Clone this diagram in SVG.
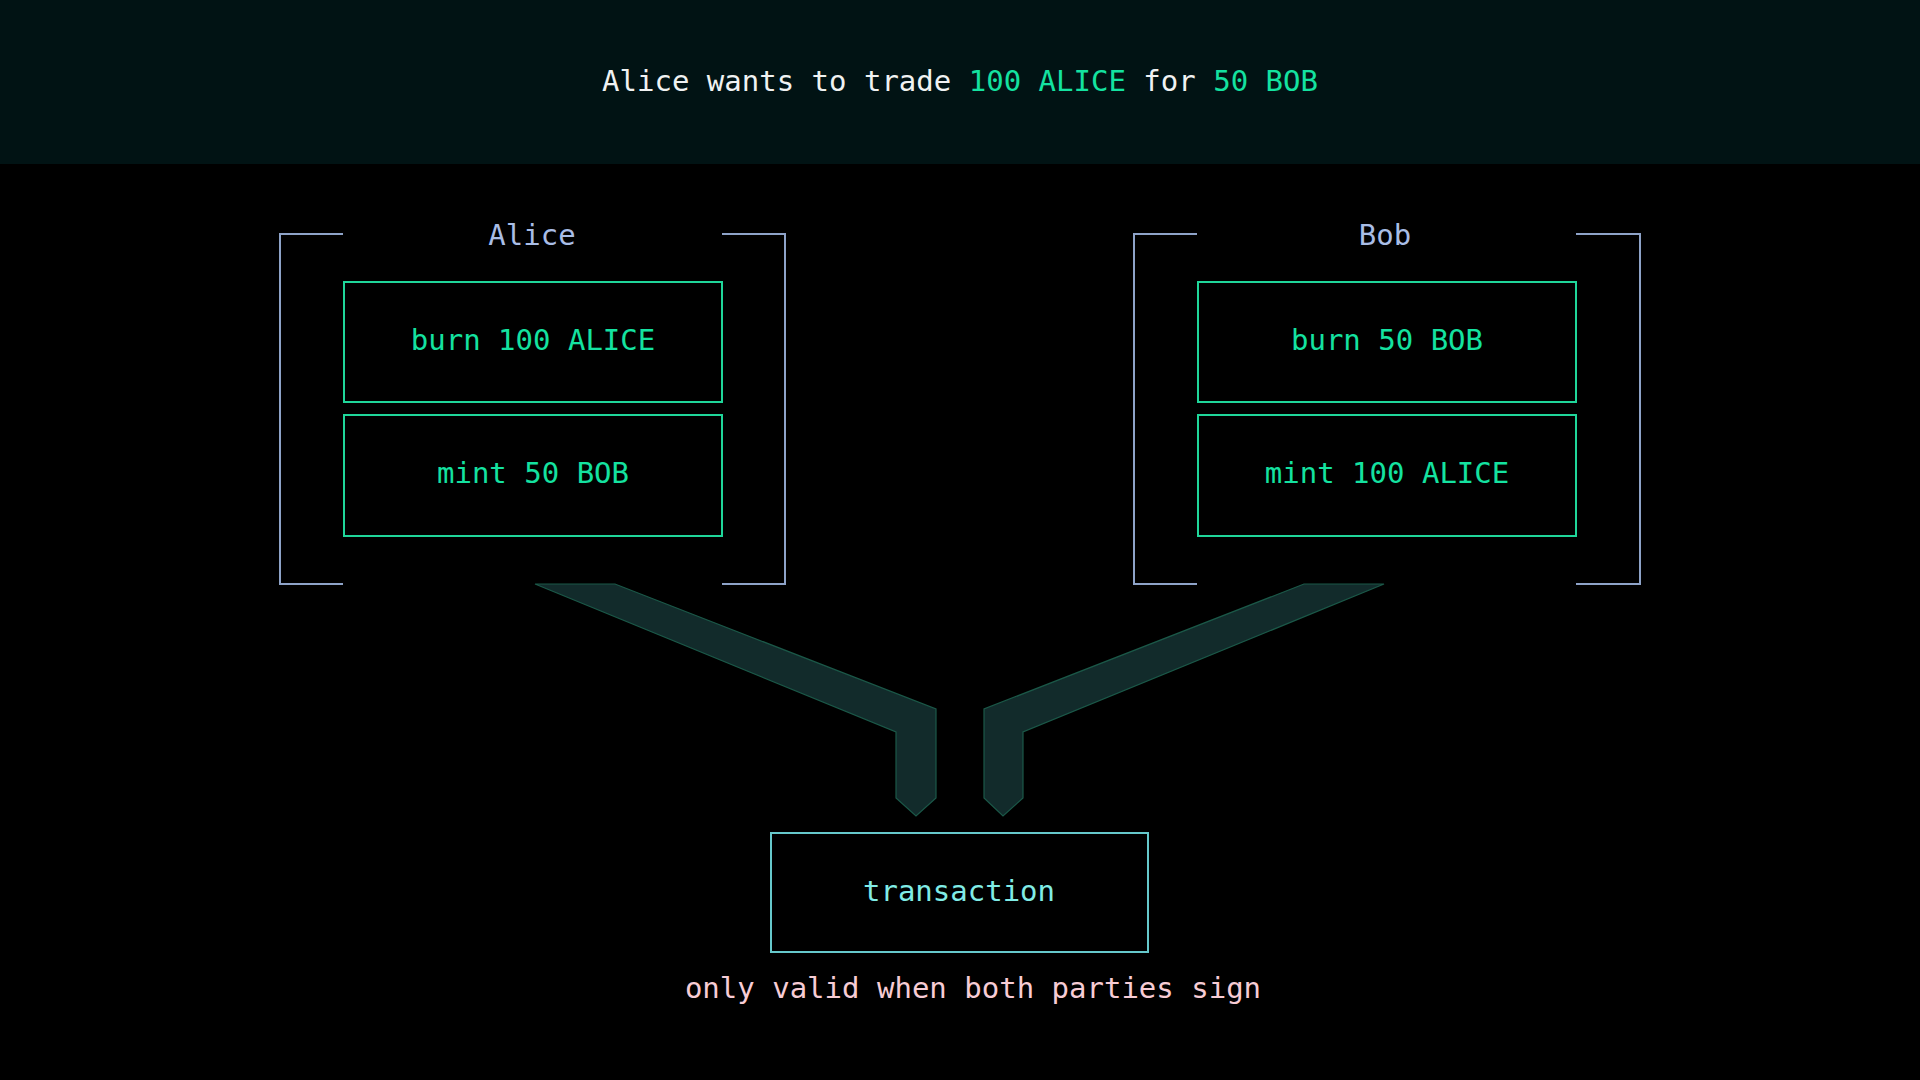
<svg xmlns="http://www.w3.org/2000/svg" width="1920" height="1080" viewBox="0 0 1920 1080">
<style>
text{font-family:"DejaVu Sans Mono","Liberation Mono",monospace;font-size:29px;text-anchor:middle}
.hdr{fill:#f0f2f2}
.grn{fill:#14e2a0}
.name{fill:#a9bde6}
.brk{fill:none;stroke:#8ea3c8;stroke-width:2}
.box{fill:#000;stroke:#1fd69a;stroke-width:2}
.op{fill:#14e2a0}
.conn{fill:#122b2b;stroke:#1b5848;stroke-width:1.2}
.tx{fill:#000;stroke:#66c8cb;stroke-width:2}
.txt{fill:#80ece6}
.foot{fill:#f7ccd5}
</style>
<rect x="0" y="0" width="1920" height="1080" fill="#000"/>
<g id="header">
<rect x="0" y="0" width="1920" height="164" fill="#011314"/>
<text x="960" y="91" class="hdr">Alice wants to trade <tspan class="grn">100 ALICE</tspan> for <tspan class="grn">50 BOB</tspan></text>
</g>
<g id="alice">
<path class="brk" d="M343 234 H280 V584 H343 M722 234 H785 V584 H722"/>
<text x="532" y="245" class="name">Alice</text>
</g>
<g id="alice-burn">
<rect class="box" x="344" y="282" width="378" height="120"/>
<text x="533" y="350" class="op">burn 100 ALICE</text>
</g>
<g id="alice-mint">
<rect class="box" x="344" y="415" width="378" height="121"/>
<text x="533" y="483" class="op">mint 50 BOB</text>
</g>
<g id="bob">
<path class="brk" d="M1197 234 H1134 V584 H1197 M1576 234 H1640 V584 H1576"/>
<text x="1385" y="245" class="name">Bob</text>
</g>
<g id="bob-burn">
<rect class="box" x="1198" y="282" width="378" height="120"/>
<text x="1387" y="350" class="op">burn 50 BOB</text>
</g>
<g id="bob-mint">
<rect class="box" x="1198" y="415" width="378" height="121"/>
<text x="1387" y="483" class="op">mint 100 ALICE</text>
</g>
<g id="connectors">
<polygon class="conn" points="535,584 615,584 936,709 936,798 916,816 896,798 896,732"/>
<polygon class="conn" points="1384,584 1304,584 984,709 984,798 1003,816 1023,798 1023,732"/>
</g>
<g id="transaction">
<rect class="tx" x="771" y="833" width="377" height="119"/>
<text x="959" y="901" class="txt">transaction</text>
</g>
<text x="973" y="998" class="foot">only valid when both parties sign</text>
</svg>
